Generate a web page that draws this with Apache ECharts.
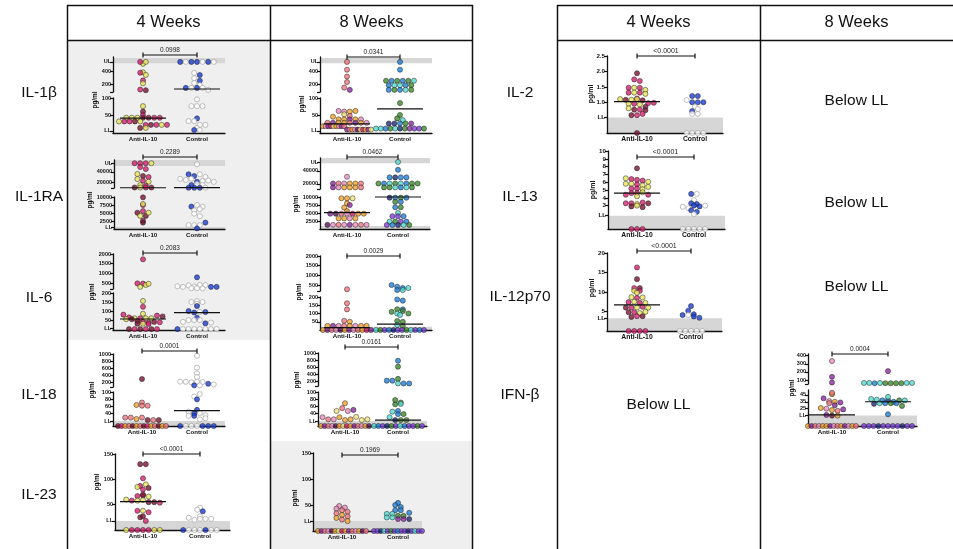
<!DOCTYPE html>
<html><head><meta charset="utf-8">
<script src="https://cdn.jsdelivr.net/npm/echarts@6.0.0/dist/echarts.min.js"></script>
<style>html,body{margin:0;padding:0;background:#fff}#c{width:953px;height:549px}</style>
</head><body><div id="c"></div>
<script>
// ---------------- DATA (values in pg/ml, donor key per point; 0 = below LL) ----------------
const groups = ['Anti-IL-10', 'Control'];
const weekHeaders = ['4 Weeks', '8 Weeks', '4 Weeks', '8 Weeks'];
const rowLabelsLeft = ['IL-1β', 'IL-1RA', 'IL-6', 'IL-18', 'IL-23'];
const rowLabelsRight = ['IL-2', 'IL-13', 'IL-12p70', 'IFN-β'];
const belowLL = 'Below LL';
const pValues = ['0.0998','0.0341','0.2289','0.0462','0.2083','0.0029','0.0001','0.0161','<0.0001','0.1969','<0.0001','<0.0001','<0.0001','0.0004'];

const il1b_4w_anti = [[510,'Y'],[540,'M'],[540,'Y'],[380,'Y'],[374,'M'],[340,'Y'],[255,'M'],[210,'Y'],[115,'M'],[105,'R'],
 [76,'Y'],[60,'R'],[50,'M'],[42,'Y'],[42,'Y'],[42,'Y'],[42,'R'],[42,'R'],[42,'M'],[42,'M'],
 [31,'Y'],[31,'M'],[31,'M'],[31,'R'],[31,'Y'],[21,'M'],[21,'R'],[21,'M'],[21,'Y'],[21,'M'],[12,'R'],[12,'Y']];
const il1b_4w_ctrl = [[540,'B'],[540,'W'],[540,'B'],[540,'B'],[540,'W'],[540,'B'],[540,'W'],
 [370,'W'],[338,'B'],[290,'W'],[250,'B'],[215,'W'],[185,'W'],[140,'B'],[140,'W'],[140,'B'],[140,'W'],[110,'W'],
 [96,'W'],[76,'W'],[76,'W'],[76,'W'],[40,'B'],[32,'W'],[32,'W'],[21,'W'],[21,'W'],[12,'W'],[6,'B'],[6,'W']];
const il1b_4w_median = [41, 123];

const il1b_8w_anti = [[540,'S'],[420,'S'],[315,'S'],[230,'S'],[145,'S'],[110,'P'],
 [62,'K'],[60,'K'],[60,'O'],[62,'O'],[52,'L'],[45,'O'],[47,'S'],
 [37,'O'],[37,'O'],[37,'P'],[37,'O'],[37,'K'],
 [27,'S'],[27,'P'],[27,'O'],[27,'O'],[27,'S'],[27,'P'],[27,'O'],[27,'K'],
 [17,'O'],[17,'K'],[17,'P'],[17,'M'],[17,'L'],[17,'O'],[17,'K'],[17,'P'],[17,'S'],
 [7,'P'],[7,'S'],[7,'O'],[7,'K'],[7,'D'],[7,'L'],[7,'M'],[7,'O'],[7,'P'],[7,'L']];
const il1b_8w_ctrl = [[540,'A'],[420,'A'],
 [250,'G'],[250,'A'],[250,'G'],[250,'A'],[250,'G'],[250,'T'],
 [180,'A'],[180,'T'],[180,'T'],[180,'A'],[180,'G'],
 [110,'A'],[110,'G'],[110,'A'],[110,'T'],[110,'G'],
 [85,'G'],[50,'G'],[40,'G'],[35,'T'],[25,'N'],[25,'N'],[25,'A'],[25,'G'],[25,'P'],
 [10,'T'],[10,'T'],[10,'A'],[10,'G'],[10,'T'],[10,'N'],[10,'G'],[10,'P'],[10,'V'],[10,'V'],[10,'G']];
const il1b_8w_median = [24, 68];

const il1ra_4w_anti = [[56000,'M'],[56000,'M'],[56000,'M'],[56000,'Y'],
 [49000,'M'],[45300,'M'],[36000,'Y'],[32300,'R'],[30400,'M'],[26700,'Y'],[23600,'M'],[21700,'Y'],[15600,'Y'],[14300,'M'],
 [10900,'R'],[10900,'Y'],[10900,'M'],[10900,'R'],
 [9900,'R'],[7500,'M'],[7800,'Y'],[5100,'R'],[5600,'M'],[4100,'Y'],[4100,'R'],[5100,'Y'],[2000,'R'],[2600,'R']];
const il1ra_4w_ctrl = [[54000,'W'],[35500,'B'],[32300,'B'],[35500,'W'],[27000,'W'],[25000,'W'],[27000,'W'],[30500,'W'],
 [21700,'B'],[23000,'W'],[24000,'W'],[21500,'W'],[15600,'B'],[17400,'W'],[15600,'W'],
 [10600,'B'],[10600,'B'],[10600,'B'],[10600,'W'],
 [7000,'B'],[7500,'W'],[7000,'W'],[5800,'W'],[6200,'W'],[4800,'W'],[4000,'W'],[1200,'W'],[1200,'W'],[1200,'W'],[2000,'B'],[200,'B']];
const il1ra_4w_median = [10500, 10600];

const il1ra_8w_anti = [[31000,'K'],
 [20500,'P'],[20500,'S'],[20500,'K'],[20500,'O'],[20500,'O'],[20500,'S'],
 [14500,'P'],[14500,'K'],[14500,'O'],[14500,'O'],[14500,'O'],[14500,'S'],
 [9600,'O'],[9600,'O'],[9600,'L'],[8000,'O'],[6700,'O'],[7500,'P'],[5600,'O'],
 [4800,'P'],[4800,'D'],[4800,'S'],[4800,'K'],[4800,'M'],[4800,'O'],[4800,'O'],
 [3300,'O'],[3300,'O'],[3300,'K'],[3300,'O'],
 [1300,'D'],[1300,'K'],[1300,'S'],[1300,'K'],[1300,'P'],[1300,'K'],[1300,'S'],[1300,'K']];
const il1ra_8w_ctrl = [[53800,'T'],[41700,'A'],[30000,'A'],[30000,'N'],[30000,'A'],[30000,'A'],
 [20500,'G'],[20500,'A'],[20500,'T'],[20500,'G'],[20500,'T'],[20500,'A'],[20500,'G'],[20500,'G'],
 [14500,'G'],[14500,'G'],[14500,'T'],[14500,'A'],[14500,'T'],[14500,'G'],
 [9800,'N'],[9800,'A'],[9800,'G'],[9800,'A'],[8500,'G'],[8500,'A'],[6800,'A'],[6800,'G'],[5000,'T'],
 [4000,'V'],[4000,'V'],[4000,'A'],[2300,'T'],[2300,'G'],[2300,'V'],[2300,'A'],
 [1250,'V'],[1250,'A'],[1250,'N'],[1250,'T'],[1250,'G']];
const il1ra_8w_median = [5100, 10000];

const il6_4w_anti = [[1725,'M'],[480,'M'],[470,'M'],[300,'Y'],[400,'Y'],[460,'Y'],
 [156,'Y'],[124,'M'],[85,'Y'],[80,'M'],[65,'M'],[60,'Y'],[60,'M'],[60,'Y'],[60,'Y'],[75,'M'],[55,'Y'],[70,'R'],[55,'R'],[45,'R'],
 [40,'M'],[30,'R'],[35,'M'],[40,'R'],[38,'M'],[30,'Y'],[28,'M'],
 [0,'R'],[0,'M'],[0,'R'],[0,'M'],[0,'R'],[0,'M']];
const il6_4w_ctrl = [[795,'B'],[330,'W'],[300,'W'],[380,'W'],[320,'W'],[400,'W'],[390,'W'],[300,'B'],[300,'B'],[230,'W'],[230,'W'],[220,'W'],
 [155,'W'],[150,'W'],[140,'W'],[150,'W'],[128,'B'],[100,'B'],[92,'B'],[95,'W'],[95,'B'],[40,'W'],[63,'B'],[50,'W'],[50,'W'],[50,'W'],[32,'B'],[36,'W'],
 [0,'B'],[0,'W'],[0,'W'],[0,'W'],[0,'W'],[0,'W'],[0,'W'],[0,'W']];
const il6_4w_median = [56, 91];

const il6_8w_anti = [[280,'S'],[162,'S'],[125,'S'],[56,'S'],[50,'O'],
 [25,'O'],[25,'P'],[25,'K'],[25,'S'],[25,'O'],[25,'K'],[25,'O'],[25,'O'],
 [0,'O'],[0,'P'],[0,'S'],[0,'K'],[0,'D'],[0,'O'],[0,'P'],[0,'K'],[0,'S'],[0,'O'],[0,'M'],[0,'P']];
const il6_8w_ctrl = [[500,'A'],[412,'A'],[345,'A'],[345,'T'],[240,'A'],[240,'T'],
 [185,'A'],[178,'A'],[126,'G'],[110,'G'],[100,'T'],[125,'A'],[115,'G'],[100,'G'],[91,'T'],[55,'G'],[50,'G'],[30,'T'],[24,'G'],
 [0,'T'],[0,'G'],[0,'V'],[0,'A'],[0,'N'],[0,'V'],[0,'V'],[0,'G'],[0,'T'],[0,'V'],[0,'A'],[0,'V']];
const il6_8w_median = [14, 36];

const il18_4w_anti = [[285,'R'],[70,'S'],[63,'O'],[61,'S'],[61,'S'],[27,'S'],[27,'S'],[23,'O'],[27,'S'],[20,'R'],[20,'S'],[20,'R'],
 [0,'R'],[0,'M'],[0,'O'],[0,'S'],[0,'R'],[0,'O'],[0,'S'],[0,'R'],[0,'M'],[0,'O'],[0,'S'],[0,'R'],[0,'O'],[0,'S']];
const il18_4w_ctrl = [[950,'W'],[610,'W'],[450,'W'],[340,'W'],[210,'W'],[205,'W'],[190,'W'],[210,'W'],[200,'W'],[150,'B'],[105,'B'],[105,'W'],[130,'W'],
 [87,'W'],[94,'W'],[79,'B'],[49,'B'],[44,'W'],[39,'B'],[40,'W'],[32,'W'],[34,'W'],[32,'B'],[22,'W'],[25,'W'],
 [0,'B'],[0,'W'],[0,'W'],[0,'W'],[0,'B'],[0,'B'],[0,'B']];
const il18_4w_median = [null, 47];

const il18_8w_anti = [[68,'O'],[46,'L'],[54,'S'],[46,'K'],[49,'P'],[28,'K'],[22,'S'],[22,'K'],[28,'O'],[20,'O'],[22,'O'],[29,'L'],[20,'L'],[22,'L'],
 [0,'O'],[0,'P'],[0,'S'],[0,'K'],[0,'D'],[0,'O'],[0,'L'],[0,'M'],[0,'O'],[0,'P'],[0,'S'],[0,'K'],[0,'O'],[0,'D']];
const il18_8w_ctrl = [[780,'A'],[610,'G'],[260,'G'],[210,'A'],[210,'A'],[130,'T'],[130,'A'],[130,'A'],
 [65,'G'],[77,'G'],[70,'G'],[66,'T'],[44,'T'],[46,'A'],[37,'A'],[37,'G'],[28,'T'],[20,'N'],[20,'G'],[20,'G'],
 [0,'T'],[0,'A'],[0,'V'],[0,'N'],[0,'G'],[0,'V'],[0,'T'],[0,'A'],[0,'V'],[0,'V'],[0,'G'],[0,'V']];
const il18_8w_median = [null, 20];

const il23_4w_anti = [[130,'R'],[130,'R'],[102,'M'],[87,'M'],[90,'Y'],[85,'Y'],[80,'M'],[83,'R'],
 [70,'M'],[67,'M'],[68,'R'],[66,'Y'],[60,'Y'],[58,'M'],[58,'Y'],[59,'Y'],[55,'R'],[55,'R'],[54,'M'],
 [38,'M'],[38,'Y'],[35,'M'],[25,'R'],[27,'R'],[18,'M'],
 [0,'Y'],[0,'M'],[0,'M'],[0,'M'],[0,'M'],[0,'Y'],[0,'Y']];
const il23_4w_ctrl = [[44,'W'],[40,'W'],[37,'B'],[27,'W'],[24,'W'],[20,'W'],[22,'W'],[22,'W'],[22,'W'],
 [0,'B'],[0,'W'],[0,'W'],[0,'W'],[0,'B'],[0,'W'],[0,'W']];
const il23_4w_median = [56, null];

const il23_8w_anti = [[48,'K'],[45,'K'],[43,'K'],[40,'S'],[37,'S'],[34,'S'],[31,'O'],[28,'S'],[25,'O'],[22,'S'],[19,'O'],
 [0,'O'],[0,'P'],[0,'S'],[0,'K'],[0,'D'],[0,'O'],[0,'L'],[0,'M'],[0,'O'],[0,'P'],[0,'S'],[0,'K'],[0,'O'],[0,'D'],[0,'S']];
const il23_8w_ctrl = [[54,'A'],[50,'A'],[46,'A'],[40,'A'],[40,'A'],[33,'T'],[33,'T'],[26,'T'],[26,'T'],[29,'G'],[29,'G'],[23,'P'],[23,'P'],[23,'N'],[35,'A'],
 [0,'V'],[0,'V'],[0,'N'],[0,'T'],[0,'V'],[0,'G'],[0,'V'],[0,'A'],[0,'V'],[0,'V'],[0,'N'],[0,'V'],[0,'T'],[0,'V'],[0,'V']];
const il23_8w_median = [null, null];

const il2_4w_anti = [[1.94,'R'],[1.74,'M'],[1.69,'M'],[1.47,'M'],[1.47,'Y'],[1.47,'M'],[1.40,'Y'],[1.31,'M'],[1.31,'Y'],[1.31,'M'],[1.27,'Y'],
 [1.10,'Y'],[1.08,'R'],[1.12,'M'],[1.08,'Y'],[1.10,'Y'],[1.06,'R'],[0.97,'M'],[0.98,'M'],[0.95,'Y'],[0.95,'M'],[0.93,'Y'],
 [0.80,'Y'],[0.85,'R'],[0.76,'R'],[0.76,'M'],[0.74,'R'],[0.58,'R'],[0.58,'M'],[0.62,'M'],[0,'R']];
const il2_4w_ctrl = [[1.2,'B'],[1.2,'B'],[1.07,'W'],[1.0,'B'],[1.0,'B'],[1.0,'B'],[0.85,'W'],[0.71,'B'],[0.78,'W'],[0.62,'W'],[0.62,'W'],
 [0,'W'],[0,'W'],[0,'W'],[0,'W']];
const il2_4w_median = [1.02, null];

const il13_4w_anti = [[7.78,'R'],[6.5,'Y'],[6.4,'M'],[6.3,'M'],[6.2,'M'],[6.06,'Y'],[5.8,'Y'],[5.8,'Y'],[5.7,'M'],[5.6,'Y'],
 [5.2,'M'],[5.2,'M'],[5.1,'Y'],[5.4,'Y'],[4.4,'M'],[4.6,'M'],[4.6,'M'],[4.7,'Y'],[4.4,'M'],[4.2,'Y'],
 [3.3,'M'],[3.3,'M'],[3.2,'Y'],[3.4,'M'],[3.3,'R'],[2.9,'R'],[3.0,'Y'],[2.8,'R'],[0,'M'],[0,'M'],[0,'M']];
const il13_4w_ctrl = [[4.5,'B'],[4.5,'W'],[3.7,'W'],[3.3,'B'],[3.2,'B'],[2.85,'W'],[2.65,'W'],[3.0,'B'],[2.9,'B'],[2.4,'B'],[2.2,'B'],[3.0,'W'],[1.9,'W'],
 [0,'W'],[0,'W'],[0,'W'],[0,'W'],[0,'W']];
const il13_4w_median = [4.6, null];

const il12_4w_anti = [[16.3,'M'],[13.3,'R'],[11,'M'],[11,'R'],[10.3,'Y'],[10.3,'M'],[9.8,'Y'],
 [8.7,'Y'],[8.5,'M'],[8.6,'Y'],[7.4,'M'],[7.5,'Y'],[7.2,'M'],[7.2,'Y'],
 [6.0,'R'],[6.0,'M'],[6.0,'Y'],[6.2,'M'],[6.0,'Y'],[4.8,'R'],[4.8,'M'],[4.6,'Y'],[4.9,'Y'],
 [3.6,'R'],[3.8,'M'],[3.8,'R'],[0,'M'],[0,'M'],[0,'M'],[0,'M']];
const il12_4w_ctrl = [[6.4,'B'],[5.2,'B'],[4.1,'B'],[4.3,'B'],[4.1,'W'],[3.7,'B'],[3.4,'B'],[0,'W'],[0,'W'],[0,'W'],[0,'W'],[0,'W']];
const il12_4w_median = [6.7, null];

const ifnb_8w_anti = [[334,'K'],[140,'P'],[70,'P'],
 [46,'O'],[48,'S'],[40,'P'],[36,'K'],[35,'O'],[33,'S'],[34,'P'],[30,'P'],[26,'O'],[25,'K'],[23,'O'],[22,'S'],[24,'P'],[16,'P'],[15,'R'],[15,'O'],
 [0,'O'],[0,'P'],[0,'S'],[0,'K'],[0,'O'],[0,'O'],[0,'P'],[0,'K'],[0,'S'],[0,'O'],[0,'P'],[0,'K'],[0,'O'],[0,'S']];
const ifnb_8w_ctrl = [[210,'P'],[65,'T'],[65,'T'],[62,'A'],[65,'T'],[62,'G'],[62,'G'],[62,'G'],[62,'G'],[65,'T'],[65,'T'],
 [39,'T'],[38,'T'],[37,'A'],[37,'N'],[35,'A'],[37,'G'],[37,'T'],[42,'T'],[32,'N'],[33,'T'],[33,'A'],[33,'G'],[33,'A'],[29,'G'],[17,'A'],
 [0,'V'],[0,'V'],[0,'V'],[0,'N'],[0,'V'],[0,'V'],[0,'V'],[0,'V'],[0,'N'],[0,'V'],[0,'V']];
const ifnb_8w_median = [16, 35];

// ---------------- STYLE / LAYOUT ----------------
const FONT = '"Liberation Sans", Arial, Helvetica, sans-serif';
const COLORS = {M:'#d8216f', R:'#7a1532', Y:'#e8e65c', B:'#1b3fd4', S:'#f0767e', O:'#f0a22e', P:'#8b2ba0', K:'#ea8fc0',
  D:'#5b1562', L:'#f3e37a', A:'#1f80d8', T:'#52dcd2', G:'#3d8b2c', V:'#7b3fd6', N:'#1c2a7a'};
const DOT = 5.1, ROW = 4.4, HALF = 24, MED = 23;

const segIL1b = (UL, top1, bot1, top2, bot2) => [
  {top:top1, bottom:bot1, min:77, max:615, ticks:[77,200,400,UL], labels:{77:'', [UL]:'UL'}, band:[520,600]},
  {top:top2, bottom:bot2, min:-3, max:100, ticks:[3,50,100], labels:{3:'LL'}}];

const panels = [
 {d:[il1b_4w_anti, il1b_4w_ctrl], med:il1b_4w_median, p:pValues[0], x0:113, x1:225, cA:30, cC:84, br:55, yn:[95,100], segs:segIL1b(540,57,92,98,133)},
 {d:[il1b_8w_anti, il1b_8w_ctrl], med:il1b_8w_median, p:pValues[1], x0:320, x1:432, cA:27, cC:80, br:57, yn:[302,104], segs:segIL1b(540,57,92,98,133)},
 {d:[il1ra_4w_anti, il1ra_4w_ctrl], med:il1ra_4w_median, p:pValues[2], x0:114, x1:225, cA:29, cC:83, br:157, yn:[90,200], segs:[
   {top:160, bottom:188, min:10000, max:62000, ticks:[10000,20000,40000,56000], labels:{10000:'',56000:'UL'}, band:[51000,62000]},
   {top:197, bottom:229, min:0, max:10000, ticks:[625,2500,5000,7500,10000], labels:{625:'LL'}, band:[0,625]}]},
 {d:[il1ra_8w_anti, il1ra_8w_ctrl], med:il1ra_8w_median, p:pValues[3], x0:320, x1:430, cA:27, cC:78, br:157, yn:[296,204], segs:[
   {top:158, bottom:189, min:12000, max:60000, ticks:[12000,20000,40000,53800], labels:{12000:'',53800:'UL'}, band:[52000,60000]},
   {top:197, bottom:229, min:0, max:10000, ticks:[940,2500,5000,7500,10000], labels:{940:'LL'}, band:[0,940]}]},
 {d:[il6_4w_anti, il6_4w_ctrl], med:il6_4w_median, p:pValues[4], x0:113, x1:225, cA:30, cC:84, br:253, yn:[92,292], segs:[
   {top:254, bottom:289, min:190, max:2000, ticks:[190,500,1000,1500,2000], labels:{190:''}},
   {top:293, bottom:330, min:-5, max:200, ticks:[5,50,100,150,200], labels:{5:'LL'}}]},
 {d:[il6_8w_anti, il6_8w_ctrl], med:il6_8w_median, p:pValues[5], x0:320, x1:432, cA:27, cC:80, br:256, yn:[299,292], segs:[
   {top:256, bottom:291, min:190, max:2000, ticks:[190,500,1000,1500,2000], labels:{190:''}},
   {top:297, bottom:330, min:0, max:200, ticks:[20,50,100,150,200], labels:{20:'LL'}, band:[0,20]}]},
 {d:[il18_4w_anti, il18_4w_ctrl], med:il18_4w_median, p:pValues[6], x0:113, x1:225, cA:29, cC:84, br:351, yn:[92,390], segs:[
   {top:354, bottom:387, min:57, max:1000, ticks:[57,200,400,600,800,1000], labels:{57:''}},
   {top:392, bottom:426, min:3, max:100, ticks:[17,40,60,80,100], labels:{17:'LL'}, band:[3,17]}]},
 {d:[il18_8w_anti, il18_8w_ctrl], med:il18_8w_median, p:pValues[7], x0:318, x1:427, cA:27, cC:80, br:347, yn:[297,380], segs:[
   {top:353, bottom:386, min:57, max:1000, ticks:[57,200,400,600,800,1000], labels:{57:''}},
   {top:392, bottom:426, min:3, max:100, ticks:[17,40,60,80,100], labels:{17:'LL'}, band:[3,17]}]},
 {d:[il23_4w_anti, il23_4w_ctrl], med:il23_4w_median, p:pValues[8], x0:115, x1:230, cA:28, cC:85, br:454, yn:[97,482], segs:[
   {top:454, bottom:530, min:0, max:150, ticks:[18,50,100,150], labels:{18:'LL'}, band:[0,18]}]},
 {d:[il23_8w_anti, il23_8w_ctrl], med:il23_8w_median, p:pValues[9], x0:313, x1:422, cA:29, cC:85, br:455, yn:[295,498], segs:[
   {top:453, bottom:531, min:0, max:150, ticks:[19,50,100,150], labels:{19:'LL'}, band:[0,19]}]},
 {d:[il2_4w_anti, il2_4w_ctrl], med:il2_4w_median, p:pValues[10], x0:607, x1:723, cA:30, cC:88, br:56, yn:[591,94], big:true, segs:[
   {top:56, bottom:133, min:0, max:2.5, ticks:[0.5,1,1.5,2,2.5], labels:{0.5:'LL'}, dec:1, band:[0,0.5]}]},
 {d:[il13_4w_anti, il13_4w_ctrl], med:il13_4w_median, p:pValues[11], x0:608, x1:725, cA:29, cC:86, br:157, yn:[593,190], big:true, segs:[
   {top:151, bottom:229, min:0, max:10, ticks:[1.7,3,4,5,6,7,8,9,10], labels:{1.7:'LL'}, band:[0,1.7]}]},
 {d:[il12_4w_anti, il12_4w_ctrl], med:il12_4w_median, p:pValues[12], x0:607, x1:722, cA:30, cC:84, br:251, yn:[592,288], big:true, segs:[
   {top:253, bottom:331, min:0, max:20, ticks:[3.3,5,10,15,20], labels:{3.3:'LL'}, band:[0,3.3]}]},
 {d:[ifnb_8w_anti, ifnb_8w_ctrl], med:ifnb_8w_median, p:pValues[13], x0:808, x1:917, cA:24, cC:80, br:354, yn:[792,388], segs:[
   {top:354, bottom:384, min:52, max:420, ticks:[52,100,200,300,400], labels:{52:''}},
   {top:390, bottom:426, min:0, max:52, ticks:[15,25,35,45], labels:{15:'LL'}, band:[0,15]}]}
];

const grids = [], xAxes = [], yAxes = [], series = [], graphics = [];

function pointStyle(k) {
  return k === 'W' ? {color:'#ffffff', borderColor:'#9c9c9c', borderWidth:0.8}
                   : {color:COLORS[k], borderColor:'#1a1a1a', borderWidth:0.6};
}
function segOf(P, v) { return (P.segs.length > 1 && v > P.segs[1].max) ? 0 : P.segs.length - 1; }

function layoutGroup(values, P, center) {
  const pts = values.map(([v, k]) => {
    const si = segOf(P, v), s = P.segs[si];
    const dv = Math.min(Math.max(v, s.min), s.max);
    const py = s.bottom - (dv - s.min) / (s.max - s.min) * (s.bottom - s.top);
    return {v:dv, k, si, py};
  });
  const rows = {};
  pts.forEach(p => { const key = Math.round(p.py / ROW); (rows[key] = rows[key] || []).push(p); });
  Object.values(rows).forEach(r => {
    const n = r.length, sp = n > 1 ? Math.min(DOT + 0.5, 2 * HALF / (n - 1)) : 0;
    r.forEach((p, i) => { p.x = center + (i - (n - 1) / 2) * sp; });
  });
  return pts;
}

panels.forEach(P => {
  const W = P.x1 - P.x0;
  const tickFont = P.big ? 6.2 : 5.5, catFont = P.big ? 6.8 : 6.2;
  const gIdx = P.segs.map((seg, si) => {
    const i = grids.length, isBottom = si === P.segs.length - 1;
    grids.push({left:P.x0, top:seg.top, width:W, height:seg.bottom - seg.top, containLabel:false, outerBoundsMode:'none'});
    xAxes.push({gridIndex:i, type:'value', min:0, max:W, show:isBottom, z:2,
      axisLine:{show:true, onZero:false, lineStyle:{color:'#111', width:1.3}}, axisTick:{show:false}, splitLine:{show:false},
      axisLabel:{show:true, customValues:[P.cA, P.cC], margin:3, fontSize:catFont, fontWeight:'bold', color:'#111', fontFamily:FONT,
        formatter:v => Math.abs(v - P.cA) < 0.01 ? groups[0] : groups[1]}});
    yAxes.push({gridIndex:i, type:'value', min:seg.min, max:seg.max, z:2,
      axisLine:{show:true, lineStyle:{color:'#111', width:1.3}},
      axisTick:{show:true, length:3, customValues:seg.ticks, lineStyle:{color:'#111', width:1.2}},
      splitLine:{show:false},
      axisLabel:{show:true, customValues:seg.ticks, margin:2, fontSize:tickFont, fontWeight:'bold', color:'#111', fontFamily:FONT,
        formatter:v => { const k = String(v); return (seg.labels && k in seg.labels) ? seg.labels[k] : (seg.dec ? v.toFixed(seg.dec) : String(v)); }}});
    if (seg.band) {
      series.push({type:'scatter', xAxisIndex:i, yAxisIndex:i, data:[], z:1, silent:true,
        markArea:{silent:true, itemStyle:{color:'#d6d6d6'}, data:[[{coord:[0, seg.band[0]]}, {coord:[W, seg.band[1]]}]]}});
    }
    return i;
  });
  [0, 1].forEach(g => {
    const center = g === 0 ? P.cA : P.cC;
    const pts = layoutGroup(P.d[g], P, center);
    P.segs.forEach((seg, si) => {
      const data = pts.filter(p => p.si === si).map(p => ({value:[p.x, p.v], itemStyle:pointStyle(p.k)}));
      if (data.length) series.push({type:'scatter', xAxisIndex:gIdx[si], yAxisIndex:gIdx[si], data, symbolSize:DOT, clip:false, silent:true, z:3});
    });
    const m = P.med[g];
    if (m !== null && m !== undefined) {
      const si = segOf(P, m);
      series.push({type:'line', xAxisIndex:gIdx[si], yAxisIndex:gIdx[si], data:[[center - MED, m], [center + MED, m]],
        symbol:'none', clip:false, silent:true, z:4, lineStyle:{color:'#111', width:1.2}});
    }
  });
  const xa = P.x0 + P.cA, xc = P.x0 + P.cC, y = P.br;
  graphics.push({type:'line', z:10, shape:{x1:xa, y1:y, x2:xc, y2:y}, style:{stroke:'#111', lineWidth:1.2}});
  graphics.push({type:'line', z:10, shape:{x1:xa, y1:y - 2.5, x2:xa, y2:y + 2.5}, style:{stroke:'#111', lineWidth:1.2}});
  graphics.push({type:'line', z:10, shape:{x1:xc, y1:y - 2.5, x2:xc, y2:y + 2.5}, style:{stroke:'#111', lineWidth:1.2}});
  graphics.push({type:'text', z:10, x:(xa + xc) / 2, y:y - 5, style:{text:P.p, fill:'#222', font:(P.big ? 7 : 6.5) + 'px ' + FONT,
    textAlign:'center', textVerticalAlign:'middle', align:'center', verticalAlign:'middle'}});
  graphics.push({type:'text', z:10, x:P.yn[0], y:P.yn[1], rotation:Math.PI / 2, style:{text:'pg/ml', fill:'#111',
    font:'bold ' + (P.big ? 7 : 6.3) + 'px ' + FONT, textAlign:'center', textVerticalAlign:'middle', align:'center', verticalAlign:'middle'}});
});

const txt = (x, y, t, size) => ({type:'text', z:10, x, y, style:{text:t, fill:'#111',
  font:size + 'px ' + FONT, textAlign:'center', textVerticalAlign:'middle', align:'center', verticalAlign:'middle'}});
graphics.push({type:'rect', z:-10, shape:{x:68, y:41, width:202, height:299}, style:{fill:'#efefef'}});
graphics.push({type:'rect', z:-10, shape:{x:271, y:441, width:201, height:108}, style:{fill:'#efefef'}});
const L = (x1, y1, x2, y2) => graphics.push({type:'line', z:10, shape:{x1, y1, x2, y2}, style:{stroke:'#111', lineWidth:1.5}});
[67.5, 270.5, 472.5, 557.5, 760.5].forEach(x => L(x, 5, x, 549));
L(67, 5.5, 473, 5.5); L(67, 40.5, 473, 40.5); L(557, 5.5, 953, 5.5); L(557, 40.5, 953, 40.5);
[168.5, 371.5, 658.5, 856.5].forEach((x, i) => graphics.push(txt(x, 22, weekHeaders[i], 16.5)));
const leftY = [93, 197, 298, 395, 495], rightY = [93, 197, 297, 395];
rowLabelsLeft.forEach((t, i) => graphics.push(txt(39, leftY[i], t, 15.5)));
rowLabelsRight.forEach((t, i) => graphics.push(txt(520, rightY[i], t, 15.5)));
[[856.5, 101], [856.5, 203], [856.5, 287], [658.5, 405]].forEach(([x, y]) => graphics.push(txt(x, y, belowLL, 15.5)));

const chart = echarts.init(document.getElementById('c'), null, {renderer:'canvas', width:953, height:549});
chart.setOption({animation:false, backgroundColor:'#ffffff', grid:grids, xAxis:xAxes, yAxis:yAxes, series, graphic:{elements:graphics}});
</script></body></html>
